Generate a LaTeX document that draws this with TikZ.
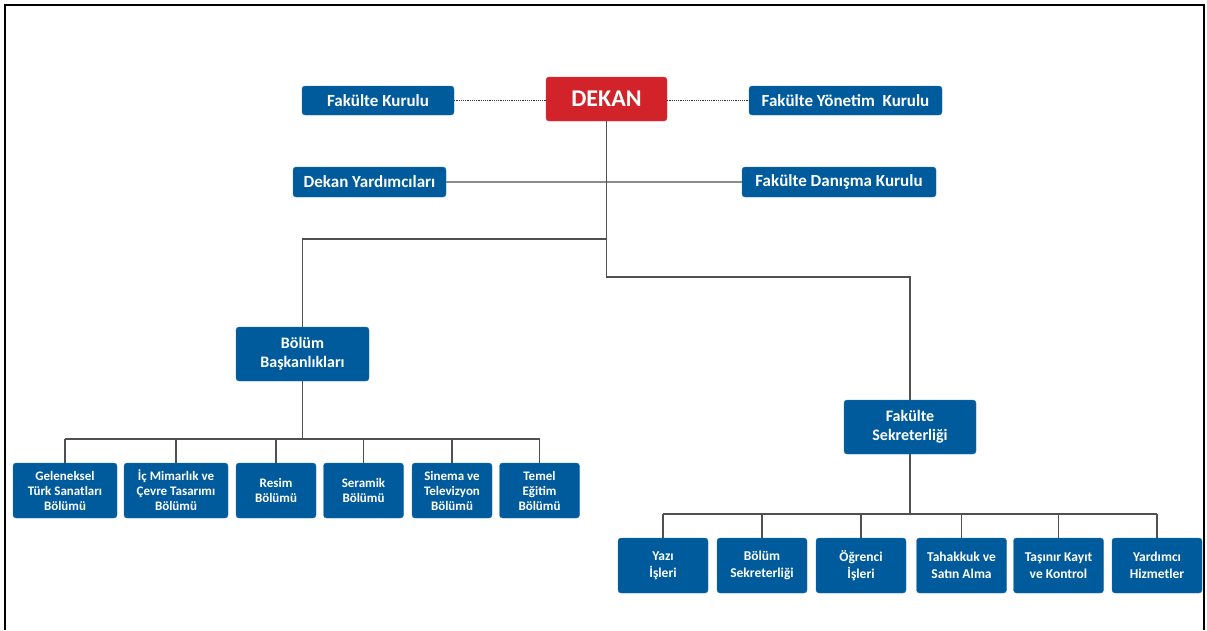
\documentclass[tikz,border=0pt]{standalone}
\usepackage{fontspec}
\setmainfont{Carlito}
\usetikzlibrary{positioning}
\definecolor{unitblue}{RGB}{0,91,157}
\definecolor{deanred}{RGB}{210,35,42}
\definecolor{linegray}{RGB}{80,80,80}

\begin{document}
\begin{tikzpicture}
    [x=1pt, y=1pt,
    unit/.style={rectangle, draw=unitblue!85!white, fill=unitblue, text=white, font=\bfseries,
    rounded corners=3pt, inner sep=0pt, align=center},
    dean/.style={unit, draw=deanred!85!white, fill=deanred, minimum width=121pt, minimum height=44pt,
    font=\bfseries\fontsize{24}{28}\selectfont},
    council/.style={unit, minimum height=29pt, font=\bfseries\fontsize{17}{20}\selectfont},
    office/.style={unit, minimum width=133pt, minimum height=54pt,
    font=\bfseries\fontsize{16}{19}\selectfont},
    dept/.style={unit, minimum width=80pt, minimum height=55pt, font=\bfseries\fontsize{13}{15}\selectfont},
    staff/.style={unit, minimum width=90pt, minimum height=55pt,
    font=\bfseries\fontsize{13.5}{16.5}\selectfont},
    trunk/.style={draw=linegray, line width=1.5pt},
    link/.style={draw=black!45, line width=2.8pt},
    dotline/.style={draw=black!80, densely dotted, line width=1.2pt},
    frame/.style={draw=black, line width=2pt}]
    \useasboundingbox (0,0) rectangle (1207,-630);
    \draw [frame] (5,-630) |- (1204,-5) -- (1204,-630);

    \node [dean] (dekan) at (606.5,-99) {DEKAN};
    \node [council, left of=dekan, node distance=228.5pt, yshift=-1.5pt, minimum width=152pt] (fak_kurulu)
    {Fakülte Kurulu};
    \node [council, right of=dekan, node distance=239pt, yshift=-1.5pt, minimum width=193pt] (fak_yonetim)
    {Fakülte Yönetim\ \ Kurulu};
    \node [council, below of=fak_kurulu, node distance=81.5pt, xshift=-8.5pt, minimum width=153pt,
    minimum height=30pt] (dekan_yrd) {Dekan Yardımcıları};
    \node [council, below of=fak_yonetim, node distance=81.5pt, xshift=-6.5pt, minimum width=194pt,
    minimum height=30pt] (danisma) {Fakülte Danışma Kurulu};
    \node [office] (baskanlik) at (302.5,-354) {Bölüm\\Başkanlıkları};
    \node [office, minimum width=132pt] (sekreterlik) at (910,-427) {Fakülte\\Sekreterliği};

    \node [dept, minimum width=104pt] (geleneksel) at (65,-490.5) {Geleneksel\\Türk Sanatları\\Bölümü};
    \node [dept, minimum width=104pt, right of=geleneksel, node distance=111pt] (icmimarlik)
    {İç Mimarlık ve\\Çevre Tasarımı\\Bölümü};
    \node [dept, right of=icmimarlik, node distance=100pt] (resim) {Resim\\Bölümü};
    \node [dept, right of=resim, node distance=87.5pt] (seramik) {Seramik\\Bölümü};
    \node [dept, right of=seramik, node distance=88.5pt] (sinema) {Sinema ve\\Televizyon\\Bölümü};
    \node [dept, right of=sinema, node distance=87.5pt] (temel) {Temel\\Eğitim\\Bölümü};

    \node [staff] (yazi) at (663,-565.5) {Yazı\\İşleri};
    \node [staff, right of=yazi, node distance=99pt] (bolum_sekr) {Bölüm\\Sekreterliği};
    \node [staff, right of=bolum_sekr, node distance=99pt] (ogrenci) {Öğrenci\\İşleri};
    \node [staff, right of=ogrenci, node distance=100.5pt] (tahakkuk) {Tahakkuk ve\\Satın Alma};
    \node [staff, right of=tahakkuk, node distance=97pt] (tasinir) {Taşınır Kayıt\\ve Kontrol};
    \node [staff, right of=tasinir, node distance=98.5pt] (yardimci) {Yardımcı\\Hizmetler};

    \draw [dotline] (fak_kurulu.east) -- (fak_kurulu.east -| dekan.west);
    \draw [dotline] (dekan.east |- fak_yonetim.west) -- (fak_yonetim.west);
    \draw [link] (dekan_yrd) -- (danisma);
    \draw [trunk] (dekan) -- ++(0,-140) -| (baskanlik);
    \draw [trunk] (dekan) -- ++(0,-178) -| (sekreterlik);

    \draw [trunk] (baskanlik) -- ++(0,-85) coordinate (bolum_bar);
    \draw [trunk] (geleneksel.north |- bolum_bar) -- (temel.north |- bolum_bar);
    \foreach \b in {geleneksel, icmimarlik, resim, seramik, sinema, temel}
      \draw [trunk] (\b.north) -- (\b.north |- bolum_bar);

    \draw [trunk] (sekreterlik) -- ++(0,-87) coordinate (sekr_bar);
    \draw [trunk] (yazi.north |- sekr_bar) -- (yardimci.north |- sekr_bar);
    \foreach \b in {yazi, bolum_sekr, ogrenci, tahakkuk, tasinir, yardimci}
      \draw [trunk] (\b.north) -- (\b.north |- sekr_bar);
\end{tikzpicture}
\end{document}
